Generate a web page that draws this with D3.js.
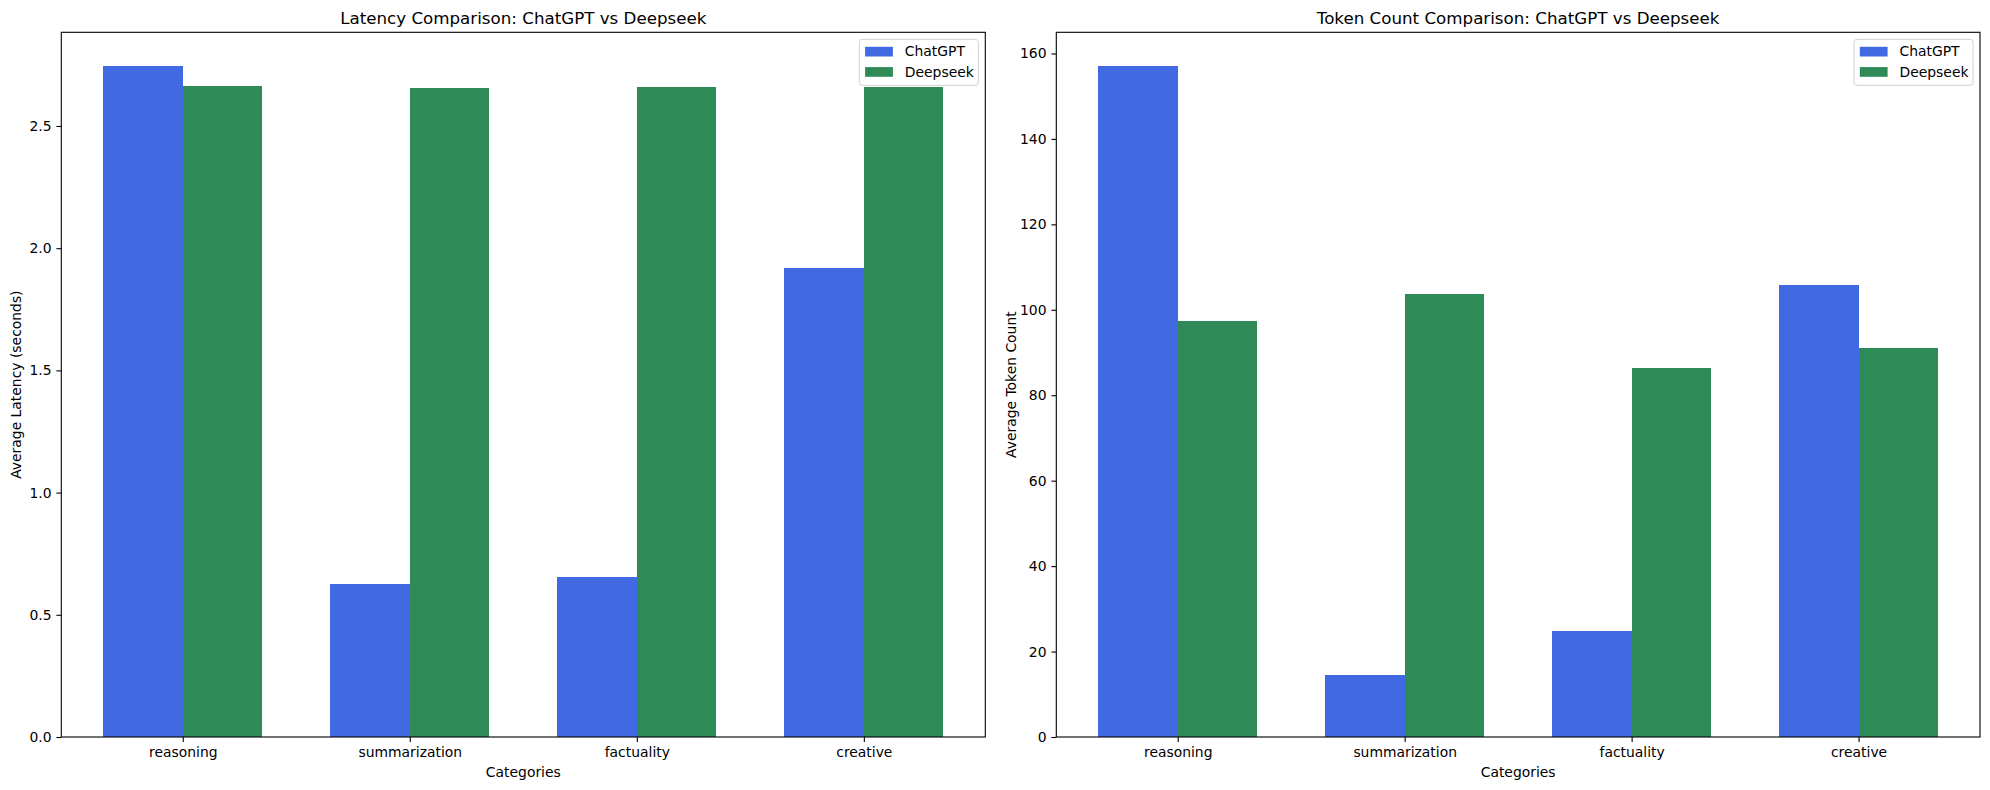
<!DOCTYPE html>
<html>
<head>
<meta charset="utf-8">
<script src="https://cdn.jsdelivr.net/npm/d3@7"></script>
<style>
  html, body { margin: 0; padding: 0; background: #fff; }
  text { font-family: "DejaVu Sans", sans-serif; fill: #000; }
</style>
</head>
<body>
<svg id="chart" width="1990" height="790"></svg>
<script>
const categories = ["reasoning", "summarization", "factuality", "creative"];
const seriesNames = ["ChatGPT", "Deepseek"];
const latencyChatGPT = [2.746, 0.627, 0.656, 1.917];
const latencyDeepseek = [2.662, 2.654, 2.658, 2.658];
const tokensChatGPT = [157.1, 14.5, 24.8, 105.9];
const tokensDeepseek = [97.4, 103.6, 86.4, 91.1];
const latencyTicks = [0.0, 0.5, 1.0, 1.5, 2.0, 2.5];
const tokenTicks = [0, 20, 40, 60, 80, 100, 120, 140, 160];
const colors = ["#4169E1", "#2E8B57"];

const svg = d3.select("#chart");
const FS = 13.9;

function drawPanel(opt) {
  const { left, top, width, height, title, ylabel, a, b, ticks, fmt } = opt;
  const barW = 0.35;
  const n = categories.length;
  const dataMin = -barW, dataMax = (n - 1) + barW;
  const m = (dataMax - dataMin) * 0.05;
  const x = d3.scaleLinear().domain([dataMin - m, dataMax + m]).range([left, left + width]);
  const ymax = d3.max(a.concat(b)) * 1.05;
  const y = d3.scaleLinear().domain([0, ymax]).range([top + height, top]);

  const g = svg.append("g");
  const series = [a, b];
  series.forEach((vals, s) => {
    g.selectAll(null).data(vals).enter().append("rect")
      .attr("x", (d, i) => x(i + (s === 0 ? -barW : 0)))
      .attr("width", (d, i) => x(i + barW) - x(i))
      .attr("y", d => y(d))
      .attr("height", d => y(0) - y(d))
      .attr("fill", colors[s])
      .attr("shape-rendering", "crispEdges");
  });

  // axes
  const xAxis = d3.axisBottom(x).tickValues(d3.range(n)).tickFormat(i => categories[i])
    .tickSize(4.9).tickPadding(4.9);
  const xg = g.append("g").attr("transform", `translate(0,${top + height})`).call(xAxis);
  const yAxis = d3.axisLeft(y).tickValues(ticks).tickFormat(fmt).tickSize(4.9).tickPadding(4.9);
  const yg = g.append("g").attr("transform", `translate(${left},0)`).call(yAxis);
  [xg, yg].forEach(ax => {
    ax.select(".domain").remove();
    ax.selectAll("line").attr("stroke", "#000").attr("stroke-width", 1.1);
    ax.selectAll("text").attr("font-size", FS).attr("font-family", "DejaVu Sans").attr("fill", "#000");
  });

  // frame
  g.append("rect").attr("x", left).attr("y", top).attr("width", width).attr("height", height)
    .attr("fill", "none").attr("stroke", "#000").attr("stroke-width", 1.1);

  // title
  g.append("text").attr("x", left + width / 2).attr("y", top - 8.3)
    .attr("text-anchor", "middle").attr("font-size", 16.7).text(title);
  // x label
  g.append("text").attr("x", left + width / 2).attr("y", top + height + 40)
    .attr("text-anchor", "middle").attr("font-size", FS).text("Categories");
  // y label
  g.append("text").attr("transform", `translate(${left - 40},${top + height / 2}) rotate(-90)`)
    .attr("text-anchor", "middle").attr("font-size", FS).text(ylabel);

  // legend
  const lw = 119, lh = 46;
  const lx = left + width - 7 - lw, ly = top + 7;
  const lg = g.append("g");
  lg.append("rect").attr("x", lx).attr("y", ly).attr("width", lw).attr("height", lh)
    .attr("rx", 3).attr("fill", "#fff").attr("fill-opacity", 0.8)
    .attr("stroke", "#d0d0d0").attr("stroke-width", 1);
  seriesNames.forEach((name, s) => {
    const ry = ly + 7.5 + s * 20.3;
    lg.append("rect").attr("x", lx + 5.8).attr("y", ry).attr("width", 27.8).attr("height", 9.7)
      .attr("fill", colors[s]);
    lg.append("text").attr("x", lx + 45.5).attr("y", ry + 9.5).attr("font-size", FS).text(name);
  });
}

drawPanel({
  left: 61.3, top: 32.3, width: 924, height: 704.7,
  title: "Latency Comparison: ChatGPT vs Deepseek",
  ylabel: "Average Latency (seconds)",
  a: latencyChatGPT, b: latencyDeepseek, ticks: latencyTicks, fmt: d3.format(".1f")
});
drawPanel({
  left: 1056.3, top: 32.3, width: 923.7, height: 704.7,
  title: "Token Count Comparison: ChatGPT vs Deepseek",
  ylabel: "Average Token Count",
  a: tokensChatGPT, b: tokensDeepseek, ticks: tokenTicks, fmt: d3.format("d")
});
</script>
</body>
</html>
